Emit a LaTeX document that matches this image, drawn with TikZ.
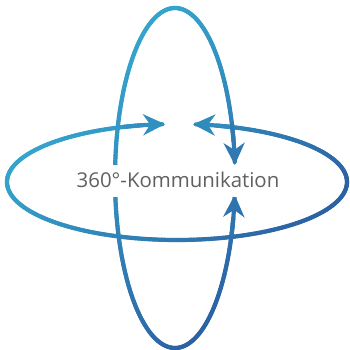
\documentclass[tikz,border=0pt]{standalone}
\usepackage{fontspec}
\setmainfont{Open Sans}
\usetikzlibrary{arrows.meta}
\definecolor{lite}{RGB}{52,164,204}
\definecolor{dark}{RGB}{44,98,164}
\definecolor{txtgray}{RGB}{96,96,96}
\tikzset{
  ring/.style={line width=4.2pt, line cap=round, line join=round},
  tipstyle/.style={-{Stealth[length=22pt,width=21pt,inset=7pt]}},
  label/.style={text=txtgray, fill=white, font=\fontsize{20.4}{24}\selectfont, anchor=base,
    text height=15pt, text depth=1pt, inner ysep=8pt, inner xsep=3pt}
}
% #1 cx, #2 cy, #3 rx, #4 ry, #5 t0, #6 t1, #7 steps
\newcommand\gradring[7]{%
  \pgfmathsetmacro\dt{(#6-#5)/#7}%
  \foreach \i in {1,...,#7}{%
    \pgfmathsetmacro\sa{#5+\dt*(\i-1)}%
    \pgfmathsetmacro\ea{#5+\dt*\i}%
    \pgfmathsetmacro\ma{(\sa+\ea)/2}%
    \pgfmathsetmacro\px{#1+#3*cos(\ma)}%
    \pgfmathsetmacro\py{#2+#4*sin(\ma)}%
    \pgfmathtruncatemacro\pc{max(0,min(100,(\px-\py+170)/3.5))}%
    \draw[ring, color=dark!\pc!lite] ({#1+#3*cos(\sa)},{#2+#4*sin(\sa)}) -- ({#1+#3*cos(\ea)},{#2+#4*sin(\ea)});
  }%
}
\begin{document}
\begin{tikzpicture}[x=1pt,y=1pt]
\useasboundingbox (0,0) rectangle (349,350);
% horizontal ellipse
\gradring{177}{168}{170}{58}{102}{436.6}{335}
\draw[ring, tipstyle, color=dark!31!lite] plot[domain=108:94, samples=15] ({177+170*cos(\x)},{168+58*sin(\x)});
\draw[ring, tipstyle, color=dark!39!lite] plot[domain=430.6:444.6, samples=15] ({177+170*cos(\x)},{168+58*sin(\x)});
% vertical ellipse
\gradring{175}{172}{60}{170}{12.4}{346.3}{334}
\draw[ring, tipstyle, color=dark!63!lite] plot[domain=18.4:4.4, samples=15] ({175+60*cos(\x)},{172+170*sin(\x)});
\draw[ring, tipstyle, color=dark!71!lite] plot[domain=340.3:354.3, samples=15] ({175+60*cos(\x)},{172+170*sin(\x)});
\node[label] (lbl) at (178,162) {360°-Kommunikation};
\end{tikzpicture}
\end{document}
